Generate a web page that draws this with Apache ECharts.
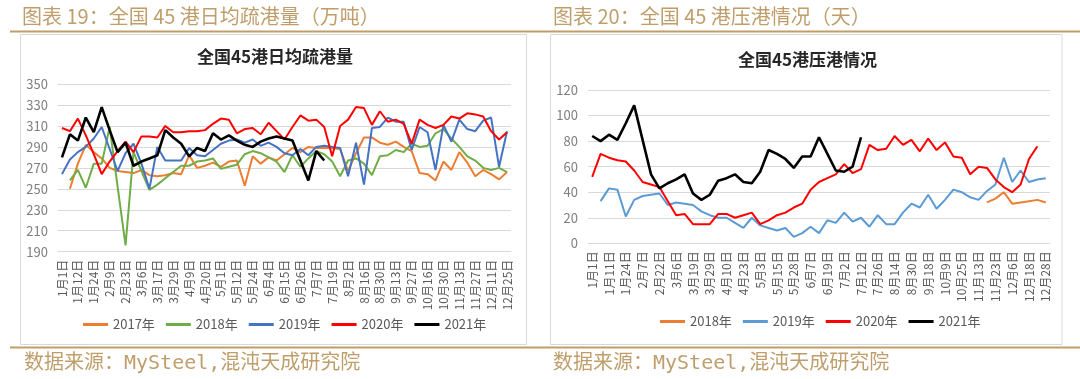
<!DOCTYPE html>
<html><head><meta charset="utf-8">
<style>
html,body{margin:0;padding:0;background:#fff;}
#wrap{position:relative;width:1080px;height:379px;overflow:hidden;}
#cl{position:absolute;left:0;top:0;width:540px;height:379px;}
#cr{position:absolute;left:540px;top:0;width:540px;height:379px;}
</style>
<script src="https://cdn.jsdelivr.net/npm/echarts@6/dist/echarts.min.js"></script>
</head><body><div id="wrap"><div id="cl"></div><div id="cr"></div></div>
<script>
// ---------- LEFT CHART DATA ----------
const leftCategories = ['1月1日','1月6日','1月12日','1月18日','1月24日','2月1日','2月9日','2月16日','2月23日','3月1日','3月6日','3月11日','3月17日','3月23日','3月29日','4月3日','4月9日','4月14日','4月20日','4月25日','5月1日','5月6日','5月12日','5月18日','5月24日','5月29日','6月4日','6月10日','6月15日','6月21日','6月26日','7月1日','7月7日','7月13日','7月19日','7月26日','8月2日','8月9日','8月16日','8月23日','8月30日','9月6日','9月13日','9月20日','9月27日','10月9日','10月16日','10月23日','10月30日','11月6日','11月13日','11月20日','11月27日','12月4日','12月11日','12月18日','12月25日'];
const left2017 = [null,250,274,292,285,279,270,267,266,265,268,263,262,263,265,264,282,270,272,275,271,276,277,253,281,274,280,277,283,289,285,290,289,289,289,288,267,284,299,299,294,292,295,290,286,265,264,258,276,268,285,275,262,268,264,259,266];
const left2018 = [null,258,268,251,274,274,309,252,196,285,267,249,254,260,266,272,272,276,277,279,269,271,273,283,286,284,280,276,266,282,271,279,286,283,276,262,277,279,274,263,281,282,287,285,293,290,291,303,307,298,290,281,277,270,268,270,266];
const left2019 = [264,278,285,290,298,309,288,267,284,293,274,250,290,277,277,277,289,282,281,287,293,296,297,294,297,291,294,290,284,282,288,282,290,291,290,289,262,294,254,308,309,318,314,314,287,309,304,268,311,295,316,307,305,315,318,271,305];
const left2020 = [308,305,317,301,283,264,276,286,295,285,300,300,299,310,304,304,305,305,306,312,317,316,303,307,308,302,313,305,297,309,320,315,316,309,281,310,316,328,327,311,324,314,316,312,293,316,311,308,311,319,317,322,321,319,305,297,304];
const left2021 = [280,302,296,318,304,328,306,285,294,272,276,279,282,306,299,293,281,289,286,303,297,301,296,292,290,295,298,300,298,296,277,258,286,277];
const leftSeriesNames = ['2017年','2018年','2019年','2020年','2021年'];
const leftColors = ['#ED7D31','#70AD47','#4472C4','#FF0000','#000000'];

// ---------- RIGHT CHART DATA ----------
const rightCategories = ['1月1日','1月6日','1月11日','1月17日','1月24日','1月31日','2月7日','2月14日','2月22日','2月28日','3月6日','3月12日','3月19日','3月24日','3月29日','4月3日','4月10日','4月16日','4月23日','4月28日','5月3日','5月9日','5月15日','5月21日','5月28日','6月2日','6月7日','6月12日','6月19日','6月25日','7月2日','7月7日','7月12日','7月19日','7月26日','8月7日','8月14日','8月21日','8月30日','9月9日','9月18日','9月30日','10月9日','10月16日','10月25日','11月2日','11月13日','11月18日','11月23日','11月30日','12月6日','12月11日','12月18日','12月24日','12月28日'];
const right2018 = [null,null,null,null,null,null,null,null,null,null,null,null,null,null,null,null,null,null,null,null,null,null,null,null,null,null,null,null,null,null,null,null,null,null,null,null,null,null,null,null,null,null,null,null,null,null,null,32,35,40,31,32,33,34,32];
const right2019 = [null,33,43,42,21,34,37,38,39,30,32,31,30,25,22,20,20,16,12,20,14,12,10,12,5,8,13,8,18,16,24,17,20,13,22,15,15,24,31,28,38,27,34,42,40,36,34,41,46,67,48,57,48,50,51];
const right2020 = [52,70,67,65,64,57,48,46,44,33,22,23,15,15,15,23,23,20,22,24,15,18,22,24,28,31,42,48,51,54,62,55,58,77,73,74,84,77,81,72,82,73,79,68,67,54,60,59,50,44,40,46,66,76];
const right2021 = [84,80,85,81,94,108,81,54,43,47,50,54,39,34,38,49,51,54,48,47,56,73,70,66,59,68,68,83,70,57,56,60,83];
const rightSeriesNames = ['2018年','2019年','2020年','2021年'];
const rightColors = ['#ED7D31','#5B9BD5','#FF0000','#000000'];

const GOLD = '#BF9E6B';
const CJK = '"Noto Sans CJK SC", sans-serif';

function frame(o) {
  return [
    {type:'text', x:o.headX, y:16, style:{text:o.header, font:'20px ' + CJK, fill:GOLD, verticalAlign:'middle'}},
    {type:'line', shape:{x1:o.lineX0, y1:31.5, x2:540, y2:31.5}, style:{stroke:GOLD, lineWidth:2}},
    {type:'rect', shape:{x:o.boxX, y:34.5, width:o.boxW, height:310}, style:{fill:'none', stroke:'#D9D9D9', lineWidth:1}},
    {type:'line', shape:{x1:o.lineX0, y1:347.5, x2:540, y2:347.5}, style:{stroke:GOLD, lineWidth:2}},
    {type:'text', x:o.footX, y:364, style:{text:'数据来源：MySteel,混沌天成研究院', font:'20px "DejaVu Sans Mono", ' + CJK, fill:GOLD, verticalAlign:'middle'}},
    {type:'text', x:o.titleX, y:o.titleY, style:{text:o.title, font:'bold 17px ' + CJK, fill:'#262626', align:'center', verticalAlign:'middle'}}
  ];
}

function mkSeries(names, colors, datas) {
  return names.map((n, i) => ({
    name: n, type: 'line', data: datas[i], symbol: 'none', smooth: false,
    connectNulls: false, animation: false,
    lineStyle: {color: colors[i], width: colors[i] === '#000000' ? 2.6 : 2},
    itemStyle: {color: colors[i]}
  }));
}

function axisX(cats) {
  return {
    type:'category', data:cats, boundaryGap:true,
    axisLine:{show:true, lineStyle:{color:'#D9D9D9'}},
    axisTick:{show:false},
    axisLabel:{interval:1, rotate:90, color:'#595959', fontSize:12, margin:8, fontFamily:CJK}
  };
}
function axisY(min, max, interval) {
  return {
    type:'value', min:min, max:max, interval:interval,
    axisLine:{show:false}, axisTick:{show:false},
    splitLine:{lineStyle:{color:'#D9D9D9', width:1}},
    axisLabel:{color:'#7F7F7F', fontSize:13, margin:10, fontFamily:CJK}
  };
}
function legend(names, colors, left, top) {
  return {
    data: names.map((n, i) => ({name:n, icon:'rect', itemStyle:{color:colors[i]}})),
    left:left, top:top, padding:0, itemWidth:25, itemHeight:3, itemGap:11,
    textStyle:{color:'#595959', fontSize:13, fontFamily:CJK},
    selectedMode:false
  };
}

const cl = echarts.init(document.getElementById('cl'), null, {renderer:'canvas'});
cl.setOption({
  animation:false,
  backgroundColor:'#fff',
  graphic: frame({header:'图表 19：全国 45 港日均疏港量（万吨）', headX:22, lineX0:10, boxX:20.5, boxW:506, footX:24, title:'全国45港日均疏港量', titleX:275, titleY:57}),
  grid:{left:58, top:84, width:453, height:167.7},
  xAxis: axisX(leftCategories),
  yAxis: axisY(190, 350, 20),
  legend: legend(leftSeriesNames, leftColors, 83, 318),
  series: mkSeries(leftSeriesNames, leftColors, [left2017, left2018, left2019, left2020, left2021])
});

const cr = echarts.init(document.getElementById('cr'), null, {renderer:'canvas'});
cr.setOption({
  animation:false,
  backgroundColor:'#fff',
  graphic: frame({header:'图表 20：全国 45 港压港情况（天）', headX:13, lineX0:0, boxX:10.5, boxW:511.5, footX:13, title:'全国45港压港情况', titleX:267.5, titleY:60}),
  grid:{left:48, top:90, width:462, height:153.3},
  xAxis: axisX(rightCategories),
  yAxis: axisY(0, 120, 20),
  legend: legend(rightSeriesNames, rightColors, 120, 315),
  series: mkSeries(rightSeriesNames, rightColors, [right2018, right2019, right2020, right2021])
});
</script>
</body></html>
